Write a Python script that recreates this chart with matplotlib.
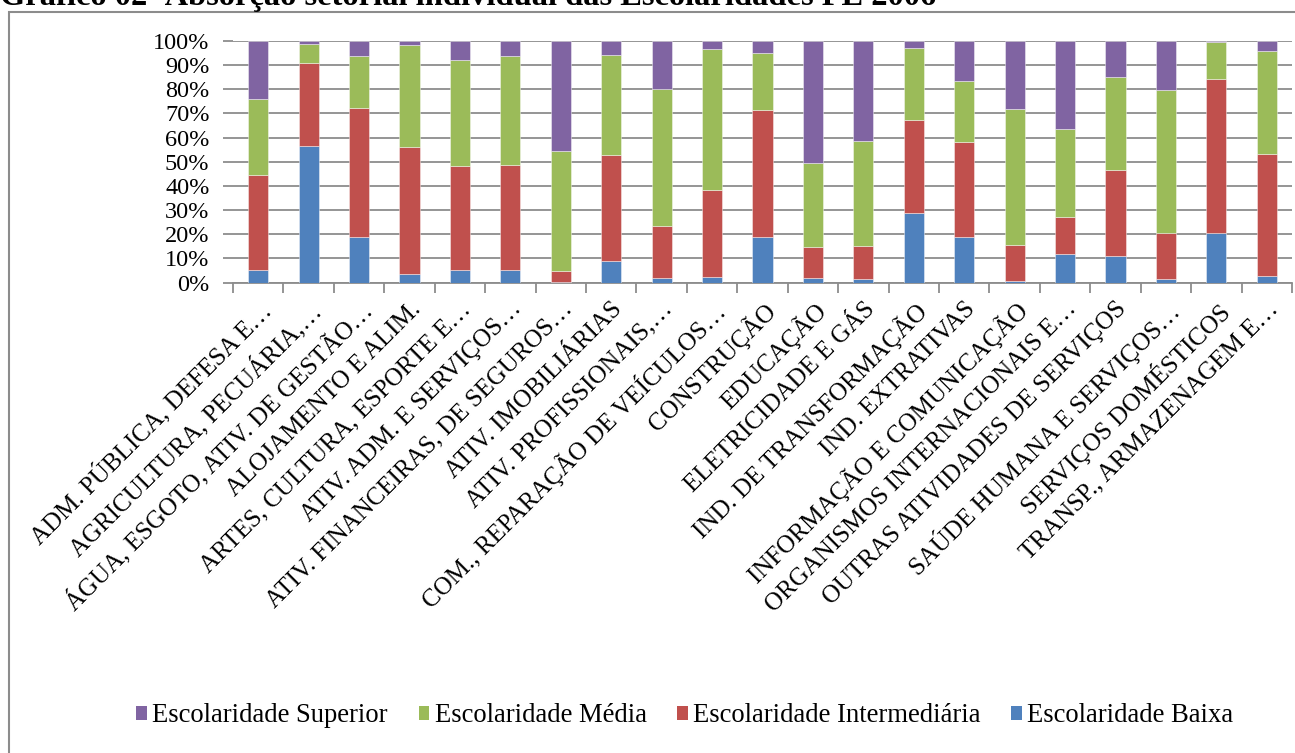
import matplotlib
matplotlib.use("Agg")
import matplotlib.pyplot as plt
from matplotlib.patches import Rectangle, Patch
from matplotlib.ticker import FixedLocator, PercentFormatter
import numpy as np

plt.rcParams['font.family'] = ['Liberation Serif', 'DejaVu Serif']

title = "Gráfico 02- Absorção setorial individual das Escolaridades PE 2006"

sectors = [
    "ADM. PÚBLICA, DEFESA E…",
    "AGRICULTURA, PECUÁRIA,…",
    "ÁGUA, ESGOTO, ATIV. DE GESTÃO…",
    "ALOJAMENTO E ALIM.",
    "ARTES, CULTURA, ESPORTE E…",
    "ATIV. ADM. E SERVIÇOS…",
    "ATIV. FINANCEIRAS, DE SEGUROS…",
    "ATIV. IMOBILIÁRIAS",
    "ATIV. PROFISSIONAIS,…",
    "COM., REPARAÇÃO DE VEÍCULOS…",
    "CONSTRUÇÃO",
    "EDUCAÇÃO",
    "ELETRICIDADE E GÁS",
    "IND. DE TRANSFORMAÇÃO",
    "IND. EXTRATIVAS",
    "INFORMAÇÃO E COMUNICAÇÃO",
    "ORGANISMOS INTERNACIONAIS E…",
    "OUTRAS ATIVIDADES DE SERVIÇOS",
    "SAÚDE HUMANA E SERVIÇOS…",
    "SERVIÇOS DOMÉSTICOS",
    "TRANSP., ARMAZENAGEM E…",
]

# Share of each schooling level in each sector (%)
baixa = [5.1, 56.3, 19.0, 3.4, 5.4, 5.1, 0.3, 9.0, 1.8, 2.2, 18.7,
         1.8, 1.5, 28.7, 18.9, 0.7, 12.0, 10.9, 1.7, 20.4, 2.6]
intermediaria = [39.5, 34.5, 53.3, 52.8, 42.9, 43.5, 4.7, 43.8, 21.6, 36.2, 52.8,
                 12.9, 13.8, 38.7, 39.4, 14.9, 15.1, 35.7, 19.0, 63.9, 50.4]
media = [31.3, 7.8, 21.2, 41.9, 43.6, 45.1, 49.3, 41.3, 56.6, 58.0, 23.5,
         34.7, 43.2, 29.4, 24.9, 56.2, 36.5, 38.2, 58.9, 15.3, 42.6]
superior = [24.1, 1.4, 6.5, 1.9, 8.1, 6.3, 45.7, 5.9, 20.0, 3.6, 5.0,
            50.6, 41.5, 3.2, 16.8, 28.2, 36.4, 15.2, 20.4, 0.4, 4.4]

series = [
    ("Escolaridade Baixa", baixa, "#4F81BD"),
    ("Escolaridade Intermediária", intermediaria, "#C0504D"),
    ("Escolaridade Média", media, "#9BBB59"),
    ("Escolaridade Superior", superior, "#8064A2"),
]

W, H = 1295, 753
fig = plt.figure(figsize=(W / 100, H / 100), dpi=100)

# outer chart frame
fig.patches.append(Rectangle((9 / W, -0.05), 1.1, 1 - 12 / H + 0.05,
                             transform=fig.transFigure, fill=False,
                             edgecolor="#8c8c8c", linewidth=1.5))

fig.text(0.0, 1 - 5 / H, title, ha="left", va="baseline",
         fontsize=23.4, fontweight="bold")

ax = fig.add_axes([233 / W, 1 - 282.7 / H, (1292 - 233) / W, (282.7 - 40.7) / H])

x = np.arange(len(sectors))
bottom = np.zeros(len(sectors))
for name, vals, color in series:
    v = np.asarray(vals, dtype=float)
    ax.bar(x, v, 0.4, bottom=bottom, color=color, edgecolor=(1, 1, 1, 0.6),
           linewidth=0.5, label=name, zorder=3)
    bottom += v

ax.set_xlim(-0.5, len(sectors) - 0.5)
ax.set_ylim(0, 100)
ax.set_yticks(np.arange(0, 101, 10))
ax.yaxis.set_major_formatter(PercentFormatter(decimals=0))
ax.grid(axis="y", color="#8c8c8c", linewidth=1.3, zorder=0)
ax.set_axisbelow(True)

for s in ("left", "right", "top"):
    ax.spines[s].set_visible(False)
ax.spines["bottom"].set_color("#8c8c8c")
ax.spines["bottom"].set_linewidth(1.3)

ax.tick_params(axis="y", length=7, width=1.3, color="#8c8c8c",
               labelsize=17.5, pad=10)

# category labels at bar centres, tick marks between categories
ax.set_xticks(x)
ax.set_xticklabels(sectors, rotation=45, ha="right", va="top",
                   rotation_mode="anchor", fontsize=18)
ax.tick_params(axis="x", which="major", length=0, pad=11)
ax.xaxis.set_minor_locator(FixedLocator(np.arange(-0.5, len(sectors), 1.0)))
ax.tick_params(axis="x", which="minor", length=7, width=1.3, color="#8c8c8c")

handles = [Patch(facecolor=c, label=n) for n, _, c in reversed(series)]
fig.legend(handles=handles, loc="center", bbox_to_anchor=(685 / W, 1 - 716 / H),
           ncol=4, frameon=False, fontsize=19.2, handlelength=0.4,
           handleheight=0.4, handletextpad=0.2, columnspacing=1.15)

fig.savefig("out.png", dpi=100)
